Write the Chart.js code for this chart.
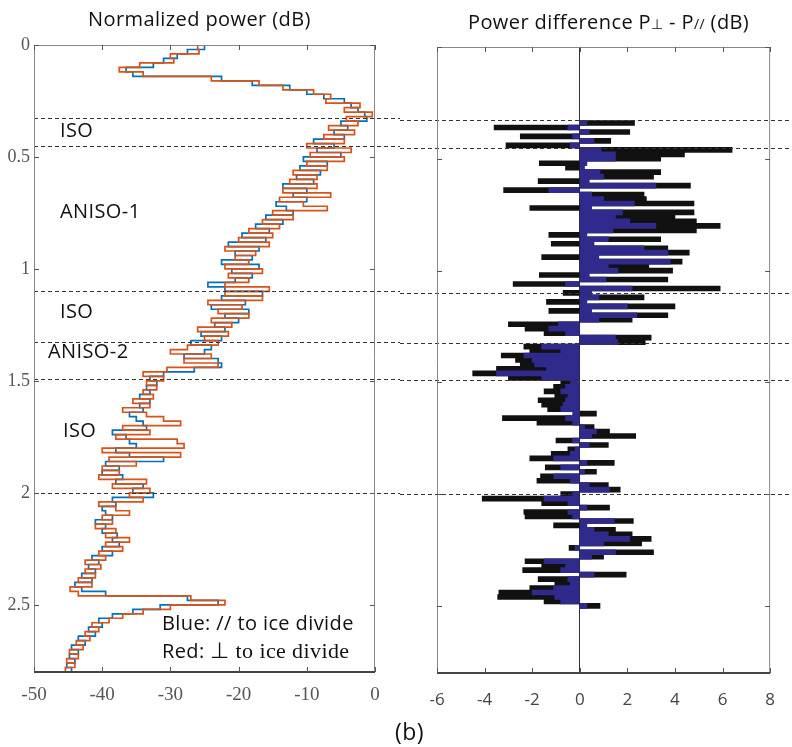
<!DOCTYPE html>
<html lang="en">
<head>
    <meta charset="UTF-8">
    <title>Normalized power and power difference</title>
    <style>
        body {
            margin: 0;
            background: #fff;
            font-family: "Open Sans", sans-serif;
        }
        .fig {
            position: relative;
            width: 792px;
            height: 747px;
        }
        .fig canvas {
            position: absolute;
            top: 0;
        }
        #leftChart { left: 0; width: 400px; height: 747px; }
        #rightChart { left: 400px; width: 392px; height: 747px; }
        .txt {
            position: absolute;
            font-size: 20px;
            line-height: 1;
            color: #111;
            white-space: nowrap;
            letter-spacing: 0.4px;
        }
        .small { font-size: 14px; }
        .serif { font-family: "Liberation Serif", serif; font-size: 22px; }
    </style>
</head>
<body>
    <div class="fig">
        <canvas id="leftChart" width="400" height="747"></canvas>
        <canvas id="rightChart" width="392" height="747"></canvas>

        <div class="txt" style="left:88px; top:9px;">Normalized power (dB)</div>
        <div class="txt" style="left:468px; top:12px;">Power difference P<span class="small">⊥</span> - P<span class="small">//</span> (dB)</div>

        <div class="txt" style="left:60px; top:120px;">ISO</div>
        <div class="txt" style="left:60px; top:201px;">ANISO-1</div>
        <div class="txt" style="left:60px; top:301px;">ISO</div>
        <div class="txt" style="left:48px; top:341px;">ANISO-2</div>
        <div class="txt" style="left:63px; top:420px;">ISO</div>

        <div class="txt" style="left:162px; top:613px;">Blue: // to ice divide</div>
        <div class="txt" style="left:162px; top:640px;">Red: <span class="serif">⊥ to ice divide</span></div>

        <div class="txt" style="left:395px; top:720px; font-size:23px;">(b)</div>
    </div>

    <script src="https://cdn.jsdelivr.net/npm/chart.js"></script>
    <script>
        // depth in km, shared by both panels
        const depth = [
            0.00, 0.02, 0.04, 0.06, 0.08, 0.10, 0.12, 0.14, 0.16, 0.18,
            0.20, 0.22, 0.24, 0.26, 0.28, 0.30, 0.32, 0.34, 0.36, 0.38,
            0.40, 0.42, 0.44, 0.46, 0.48, 0.50, 0.52, 0.54, 0.56, 0.58,
            0.60, 0.62, 0.64, 0.66, 0.68, 0.70, 0.72, 0.74, 0.76, 0.78,
            0.80, 0.82, 0.84, 0.86, 0.88, 0.90, 0.92, 0.94, 0.96, 0.98,
            1.00, 1.02, 1.04, 1.06, 1.08, 1.10, 1.12, 1.14, 1.16, 1.18,
            1.20, 1.22, 1.24, 1.26, 1.28, 1.30, 1.32, 1.34, 1.36, 1.38,
            1.40, 1.42, 1.44, 1.46, 1.48, 1.50, 1.52, 1.54, 1.56, 1.58,
            1.60, 1.62, 1.64, 1.66, 1.68, 1.70, 1.72, 1.74, 1.76, 1.78,
            1.80, 1.82, 1.84, 1.86, 1.88, 1.90, 1.92, 1.94, 1.96, 1.98,
            2.00, 2.02, 2.04, 2.06, 2.08, 2.10, 2.12, 2.14, 2.16, 2.18,
            2.20, 2.22, 2.24, 2.26, 2.28, 2.30, 2.32, 2.34, 2.36, 2.38,
            2.40, 2.42, 2.44, 2.46, 2.48, 2.50, 2.52, 2.54, 2.56, 2.58,
            2.60, 2.62, 2.64, 2.66, 2.68, 2.70, 2.72, 2.74, 2.76, 2.78,
            2.80
        ];

        // normalized power (dB), perpendicular to ice divide (red)
        const powerPerp = [
            -22.5, -26, -25.8, -30, -29.5, -34.5, -37.5, -34, -24, -17,
            -13.5, -9, -6.5, -7.2, -2.2, -4.5, -0.4, -4.2, -2.5, -6.8,
            -3.0, -7.5, -4.5, -10, -3.5, -9.5, -4.5, -10, -7, -12,
            -8.5, -12.5, -8.5, -13.5, -6.5, -14, -10.5, -7, -15, -12,
            -16.5, -14, -18.5, -15, -20, -15.5, -22, -17.5, -20.5, -18.5,
            -22, -16.5, -21.5, -18.5, -22, -15.5, -22, -16.5, -24.5, -19.5,
            -23, -18.5, -24, -21, -26, -21.5, -25, -23, -27.5, -30,
            -24, -28, -23, -30.5, -34, -31, -33.5, -32, -34, -32.5,
            -35.5, -33, -37, -33.5, -31, -28.5, -37, -33, -38, -29,
            -28, -40, -28.5, -39, -35, -40, -37.5, -40.5, -33.5, -38.5,
            -33, -36, -34, -40.5, -38, -36, -40, -38.5, -41, -38,
            -39.5, -36, -39.5, -37, -40.5, -39.5, -42.5, -40.2, -42.5, -41,
            -43.5, -41.5, -44.7, -43.5, -27, -22, -30, -34, -37, -39,
            -41.5, -40.5, -42.5, -41.8, -43.8, -42.8, -44.8, -43.5, -45.2, -44,
            -45.4
        ];

        // normalized power (dB), parallel to ice divide (blue)
        const powerPar = [
            -21.5, -25, -27.5, -29, -31, -32.5, -36.5, -35.5, -22.5, -18,
            -12.5, -10, -7.5, -4.5, -3.5, -2.5, -1.5, -1.2, -5, -4,
            -6, -4.5, -9, -6, -8.5, -5, -10.5, -7, -11, -8,
            -11.5, -9, -13.5, -10, -12, -10, -14.5, -13, -12, -16,
            -13.5, -17.5, -15.5, -19.5, -16, -21.5, -17, -20.5, -18, -22.5,
            -17, -21, -18, -20.5, -24.5, -22, -16.5, -22.5, -19, -24,
            -18.5, -22, -20, -23.5, -22, -25.5, -22.5, -27, -24, -25,
            -28, -23, -22.5, -26.5, -31, -33, -32, -33.5, -33, -34.5,
            -33, -34.5, -34, -36, -35, -34, -33.5, -38.5, -36.5, -36,
            -35, -38, -36, -31, -39.5, -37.5, -40, -37, -38, -34,
            -35.5, -32.5, -38.5, -38, -40, -39.5, -38.5, -41, -39.5, -40,
            -37.8, -38.5, -37.5, -40, -38.5, -41.5, -40.5, -42, -41, -43,
            -41.5, -44, -43, -39.5, -27.5, -23, -31.5, -35.5, -38.5, -40.5,
            -40, -42, -41, -43.5, -42.5, -44.5, -43.5, -44.8, -44, -45.2,
            -44.5
        ];

        // power difference P_perp - P_par (dB), raw bars (black)
        const diffRaw = [
            null, null, null, null, null, null, null, null, null, null,
            null, null, null, null, null, null, null, 2.3, -3.6, 2.1,
            -2.5, 1.3, -3.1, 6.4, 4.4, 3.4, -1.7, -0.6, 3.4, 3.1,
            -1.75, 4.65, -3.2, 2.7, 2.8, 4.8, -2.1, 4.8, 4.0, 4.9,
            5.9, 4.9, -1.3, 3.4, -1.2, 3.7, 4.6, -1.6, 4.3, 2.9,
            3.9, -1.7, 3.7, -2.8, 5.9, -0.7, 2.7, -1.4, 4.0, -1.3,
            3.7, 2.2, -3.0, -2.3, -1.5, 3.0, 2.75, -2.35, -2.1, -3.3,
            -2.7, -2.5, -3.5, -4.5, -3.0, -0.8, -1.1, -1.5, -1.05, -1.75,
            -1.6, -1.35, 0.7, -3.25, -1.8, 0.6, 1.25, 2.35, -1.0, 1.2,
            -0.5, -1.2, -2.1, 1.45, -1.45, 0.7, -1.65, -1.8, 1.2, 1.7,
            -0.8, -4.1, -1.6, 1.25, -2.35, -2.3, 2.25, -1.1, 1.5, 2.2,
            3.0, 2.6, -0.45, 3.1, 1.0, -2.3, -1.6, -2.4, 1.95, -1.75,
            -1.05, -2.1, -3.4, -3.45, -1.5, 0.85, null, null, null, null,
            null, null, null, null, null, null, null, null, null, null,
            null
        ];

        // power difference, smoothed envelope (navy fill)
        const diffSmooth = [
            null, null, null, null, null, null, null, null, null, null,
            null, null, null, null, null, null, null, 0.3, -0.5, 0.4,
            -0.3, 0.6, -0.4, 0.9, 1.5, 1.5, 0.3, 0.2, 0.85, 1.0,
            0.4, 3.2, -1.3, 0.5, 1.0, 2.3, 0.5, 1.8, 1.5, 2.1,
            3.2, 1.4, 0.3, 1.2, 0.6, 2.7, 3.7, 0.8, 3.8, 1.2,
            1.6, 0.4, 1.1, -0.6, 2.2, 0.5, 0.8, 0.3, 2.0, 0.5,
            2.4, 0.8, -0.9, -1.3, -0.6, 1.5, 1.6, -1.6, -0.8, -2.35,
            -2.0, -1.9, -1.4, -3.5, -1.6, -0.4, -0.6, -0.8, -0.5, -0.6,
            -0.7, -0.8, -0.3, -0.6, -0.3, 0.2, 0.7, 0.5, -0.3, 0.4,
            -0.2, -0.4, -1.1, 0.3, -0.8, 0.2, -1.1, -0.4, 0.4, 1.25,
            -0.3, -1.5, -0.5, 0.3, -0.5, -0.3, 1.45, 0.3, 0.6, 1.2,
            2.1, 1.0, -0.2, 1.5, 0.5, -1.5, -0.6, -0.8, 0.6, -0.5,
            -0.4, -1.1, -2.0, -1.05, -0.8, 0.3, null, null, null, null,
            null, null, null, null, null, null, null, null, null, null,
            null
        ];

        // layer boundaries (km) shown as dashed lines
        const zoneDepths = [0.325, 0.45, 1.10, 1.325, 1.49, 2.00];

        const depthTicks = [0, 0.5, 1, 1.5, 2, 2.5];
        const powerTicks = [-50, -40, -30, -20, -10, 0];
        const diffTicks = [-6, -4, -2, 0, 2, 4, 6, 8];

        // box around the plot with MATLAB-style inward ticks
        const frameTicks = {
            id: 'frameTicks',
            afterDraw(chart) {
                const { ctx, chartArea: a, scales: { x, y } } = chart;
                ctx.save();
                ctx.strokeStyle = '#888';
                ctx.lineWidth = 1;
                ctx.beginPath();
                ctx.moveTo(a.left + 0.5, a.bottom);
                ctx.lineTo(a.left + 0.5, a.top + 0.5);
                ctx.lineTo(a.right - 0.5, a.top + 0.5);
                ctx.lineTo(a.right - 0.5, a.bottom);
                ctx.stroke();
                ctx.strokeStyle = '#444';
                ctx.lineWidth = 2;
                ctx.beginPath();
                ctx.moveTo(a.left, a.bottom);
                ctx.lineTo(a.right, a.bottom);
                ctx.stroke();

                ctx.strokeStyle = '#555';
                ctx.lineWidth = 1;
                ctx.beginPath();
                x.ticks.forEach(t => {
                    const px = Math.round(x.getPixelForValue(t.value)) + 0.5;
                    ctx.moveTo(px, a.bottom);
                    ctx.lineTo(px, a.bottom - 5);
                    ctx.moveTo(px, a.top);
                    ctx.lineTo(px, a.top + 5);
                });
                y.ticks.forEach(t => {
                    const py = Math.round(y.getPixelForValue(t.value)) + 0.5;
                    ctx.moveTo(a.left, py);
                    ctx.lineTo(a.left + 5, py);
                    ctx.moveTo(a.right, py);
                    ctx.lineTo(a.right - 5, py);
                });
                ctx.stroke();
                ctx.restore();
            }
        };

        // dashed zone boundaries, running across both panels
        const zoneLines = {
            id: 'zoneLines',
            afterDatasetsDraw(chart, args, opts) {
                const { ctx, chartArea: a, scales: { y } } = chart;
                const x0 = opts.fromEdge ? 0 : a.left;
                ctx.save();
                ctx.strokeStyle = '#333';
                ctx.lineWidth = 1;
                ctx.setLineDash([4, 3]);
                ctx.beginPath();
                zoneDepths.forEach(d => {
                    const py = Math.round(y.getPixelForValue(d)) + 0.5;
                    ctx.moveTo(x0, py);
                    ctx.lineTo(chart.width, py);
                });
                ctx.stroke();
                ctx.restore();
            }
        };

        const setTicks = list => scale => {
            scale.ticks = list.map(v => ({ value: v }));
        };

        new Chart(document.getElementById('leftChart'), {
            type: 'scatter',
            data: {
                datasets: [{
                    label: 'Red: ⊥ to ice divide',
                    data: depth.map((d, i) => ({ x: powerPerp[i], y: d })),
                    showLine: true,
                    stepped: 'before',
                    borderColor: '#d95319',
                    borderWidth: 1.7,
                    pointRadius: 0
                }, {
                    label: 'Blue: // to ice divide',
                    data: depth.map((d, i) => ({ x: powerPar[i], y: d })),
                    showLine: true,
                    stepped: 'before',
                    borderColor: '#0072bd',
                    borderWidth: 1.7,
                    pointRadius: 0
                }]
            },
            options: {
                responsive: false,
                animation: false,
                layout: { padding: { top: 45, right: 25, left: 0, bottom: 0 } },
                scales: {
                    x: {
                        type: 'linear',
                        min: -50,
                        max: 0,
                        afterBuildTicks: setTicks(powerTicks),
                        afterFit: s => { s.height = 75; },
                        grid: { display: false, drawTicks: false },
                        border: { display: false },
                        ticks: {
                            padding: 12,
                            color: '#555',
                            callback: v => String(v),
                            font: { family: 'Liberation Sans Narrow', size: 19 }
                        }
                    },
                    y: {
                        type: 'linear',
                        reverse: true,
                        min: 0,
                        max: 2.8,
                        afterBuildTicks: setTicks(depthTicks),
                        afterFit: s => { s.width = 34; },
                        grid: { display: false, drawTicks: false },
                        border: { display: false },
                        ticks: {
                            padding: 4,
                            color: '#555',
                            callback: v => String(v),
                            font: { family: 'Liberation Sans Narrow', size: 18 }
                        }
                    }
                },
                plugins: {
                    legend: { display: false },
                    tooltip: { enabled: false },
                    zoneLines: { fromEdge: false }
                }
            },
            plugins: [zoneLines, frameTicks]
        });

        new Chart(document.getElementById('rightChart'), {
            type: 'bar',
            data: {
                datasets: [{
                    label: 'smoothed',
                    data: depth.map((d, i) => ({ x: diffSmooth[i], y: d })).filter(p => p.x !== null),
                    backgroundColor: '#2f2a8c',
                    grouped: false,
                    barThickness: 5
                }, {
                    label: 'P⊥ - P//',
                    data: depth.map((d, i) => ({ x: diffRaw[i], y: d })).filter(p => p.x !== null),
                    backgroundColor: '#111',
                    grouped: false,
                    barThickness: 5
                }]
            },
            options: {
                indexAxis: 'y',
                responsive: false,
                animation: false,
                layout: { padding: { top: 47, right: 10, left: 0, bottom: 0 } },
                scales: {
                    x: {
                        type: 'linear',
                        min: -6,
                        max: 8,
                        afterBuildTicks: setTicks(diffTicks),
                        afterFit: s => { s.height = 74; },
                        grid: {
                            drawTicks: false,
                            color: c => (c.tick && c.tick.value === 0) ? '#333' : 'rgba(0,0,0,0)'
                        },
                        border: { display: false },
                        ticks: {
                            padding: 17,
                            color: '#444',
                            callback: v => String(v),
                            font: { family: 'Open Sans', size: 17 }
                        }
                    },
                    y: {
                        type: 'linear',
                        reverse: true,
                        min: 0,
                        max: 2.8,
                        offset: false,
                        afterBuildTicks: setTicks(depthTicks),
                        afterFit: s => { s.width = 37; },
                        grid: { display: false, drawTicks: false, offset: false },
                        border: { display: false },
                        ticks: { display: false }
                    }
                },
                plugins: {
                    legend: { display: false },
                    tooltip: { enabled: false },
                    zoneLines: { fromEdge: true }
                }
            },
            plugins: [zoneLines, frameTicks]
        });
    </script>
</body>
</html>
